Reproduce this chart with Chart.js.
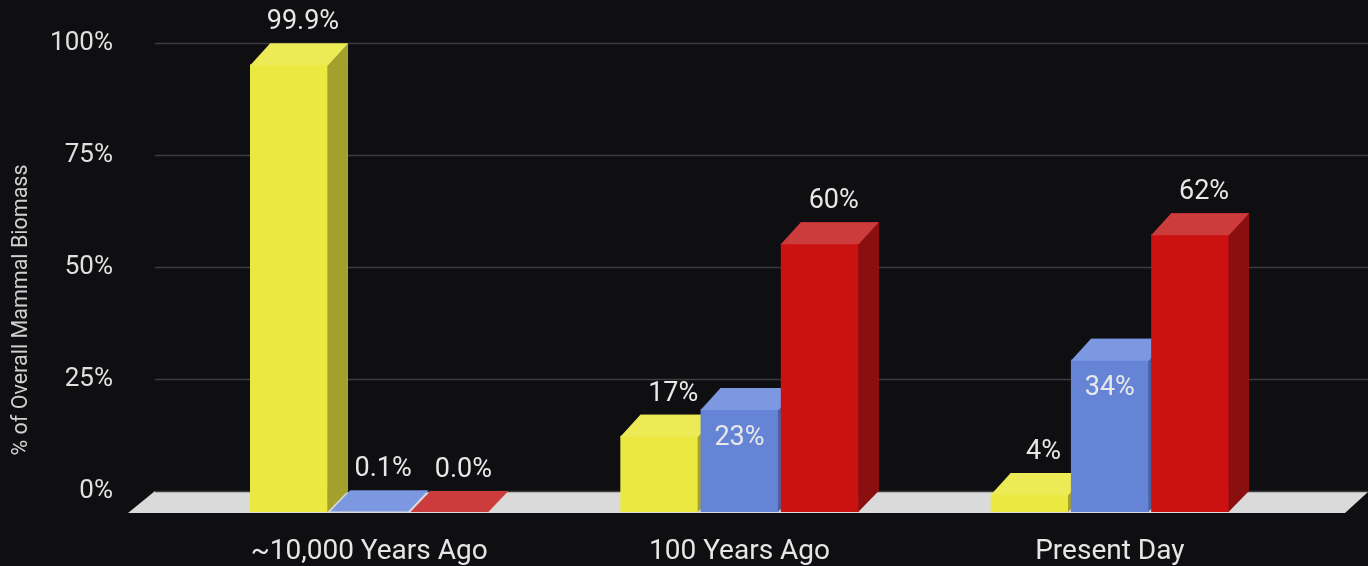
<!DOCTYPE html>
<html lang="en">
<head>
  <meta charset="UTF-8">
  <title>Mammal Biomass</title>
  <script src="https://cdn.jsdelivr.net/npm/chart.js"></script>
  <style>
    html, body {
      margin: 0;
      padding: 0;
      background: #0f0f12;
    }
    #wrap {
      width: 1368px;
      height: 566px;
    }
  </style>
</head>
<body>
  <div id="wrap"><canvas id="biomassChart"></canvas></div>
  <script>
    // data
    var categories = ['~10,000 Years Ago', '100 Years Ago', 'Present Day'];
    var wildMammals = [99.9, 17, 4];
    var humans = [0.1, 23, 34];
    var livestock = [0.0, 60, 62];
    var yTicks = [0, 25, 50, 75, 100];

    var faces = [
      { front: '#ebe83f', top: '#eceb55', side: '#a3a12d' },
      { front: '#6584d6', top: '#7b98e1', side: '#4a62a4' },
      { front: '#cc1111', top: '#cc3c3c', side: '#8c0f0f' }
    ];
    var DX = 20, DY = 21;

    function fmt(v) {
      return v < 1 ? v.toFixed(1) + '%' : (v % 1 ? v.toFixed(1) : v) + '%';
    }

    var depthPlugin = {
      id: 'depth',
      beforeDatasetsDraw: function (chart) {
        var ctx = chart.ctx, y = chart.scales.y, W = chart.width;
        var base = y.getPixelForValue(0);
        ctx.save();
        // floor
        ctx.fillStyle = '#dadada';
        ctx.beginPath();
        ctx.moveTo(chart.chartArea.left - 76, base + 22);
        ctx.lineTo(chart.chartArea.left - 49, base);
        ctx.lineTo(W, base);
        ctx.lineTo(W, base + 1);
        ctx.lineTo(W - 23, base + 22);
        ctx.closePath();
        ctx.fill();
        // grid lines
        ctx.strokeStyle = '#3d3d3f';
        ctx.lineWidth = 1.5;
        yTicks.forEach(function (t) {
          var py = Math.round(y.getPixelForValue(t)) + 0.5;
          ctx.beginPath();
          ctx.moveTo(chart.chartArea.left - 49, py);
          ctx.lineTo(W, py);
          ctx.stroke();
        });
        // axis title
        ctx.fillStyle = '#d0d0d0';
        ctx.font = '21.5px Roboto';
        ctx.textAlign = 'center';
        ctx.textBaseline = 'middle';
        ctx.translate(22, 310);
        ctx.rotate(-Math.PI / 2);
        ctx.fillText('% of Overall Mammal Biomass', 0, 0);
        ctx.restore();
      },
      afterDatasetsDraw: function (chart) {
        var ctx = chart.ctx;
        ctx.save();
        for (var i = 0; i < categories.length; i++) {
          chart.data.datasets.forEach(function (ds, d) {
            var bar = chart.getDatasetMeta(d).data[i];
            var x0 = bar.x - bar.width / 2, x1 = bar.x + bar.width / 2;
            var yt = bar.y, yb = bar.base;
            var c = faces[d];
            var tall = yb - yt > 0.5;
            if (tall) {
              ctx.fillStyle = c.front;
              ctx.fillRect(x0 - DX, yt + DY, x1 - x0, yb - yt);
              ctx.fillStyle = c.side;
              ctx.beginPath();
              ctx.moveTo(x1 - DX - 0.5, yt + DY);
              ctx.lineTo(x1, yt);
              ctx.lineTo(x1, yb);
              ctx.lineTo(x1 - DX - 0.5, yb + DY);
              ctx.closePath();
              ctx.fill();
            }
            // top face, overlapping the front edge a little to hide the seam
            var lip = tall ? 1 : 0;
            ctx.fillStyle = c.top;
            ctx.beginPath();
            ctx.moveTo(x0 - DX, yt + DY + lip);
            ctx.lineTo(x1 - DX, yt + DY + lip);
            ctx.lineTo(x1, yt);
            ctx.lineTo(x0, yt);
            ctx.closePath();
            ctx.fill();
          });
        }
        // value labels
        ctx.fillStyle = '#e8e8e8';
        ctx.font = '27px Roboto';
        ctx.textAlign = 'center';
        ctx.textBaseline = 'middle';
        chart.data.datasets.forEach(function (ds, d) {
          chart.getDatasetMeta(d).data.forEach(function (bar, i) {
            var v = ds.data[i];
            var cx = bar.x - DX / 2 + 4;
            if (d === 1 && v > 10) {
              ctx.fillText(fmt(v), bar.x - DX, bar.y + DY + 29);
            } else {
              ctx.fillText(fmt(v), cx, bar.y - 21);
            }
          });
        });
        ctx.restore();
      }
    };

    var ctx = document.getElementById('biomassChart').getContext('2d');
    var myChart = new Chart(ctx, {
      type: 'bar',
      data: {
        labels: categories,
        datasets: [
          { label: 'Wild mammals', data: wildMammals, backgroundColor: faces[0].front },
          { label: 'Humans', data: humans, backgroundColor: faces[1].front },
          { label: 'Livestock', data: livestock, backgroundColor: faces[2].front }
        ]
      },
      options: {
        responsive: true,
        maintainAspectRatio: false,
        animation: false,
        categoryPercentage: 0.65,
        barPercentage: 0.97,
        layout: { padding: { top: 43, right: 53, left: 0, bottom: 0 } },
        plugins: {
          legend: { display: false },
          tooltip: { enabled: false }
        },
        scales: {
          x: {
            grid: { display: false, drawTicks: false },
            border: { display: false },
            ticks: {
              color: '#e6e6e6',
              font: { family: 'Roboto', size: 28 },
              labelOffset: -20,
              padding: 44
            },
            afterFit: function (s) { s.height = 75; }
          },
          y: {
            min: 0,
            max: 100,
            grid: { display: false, drawTicks: false },
            border: { display: false },
            ticks: {
              stepSize: 25,
              color: '#e0e0e0',
              font: { family: 'Roboto', size: 26 },
              padding: 91,
              callback: function (v) { return v + '%'; }
            },
            afterFit: function (s) {
              s.width = 204;
              s.paddingTop = 0;
              s.paddingBottom = 0;
            }
          }
        }
      },
      plugins: [depthPlugin]
    });
  </script>
</body>
</html>
